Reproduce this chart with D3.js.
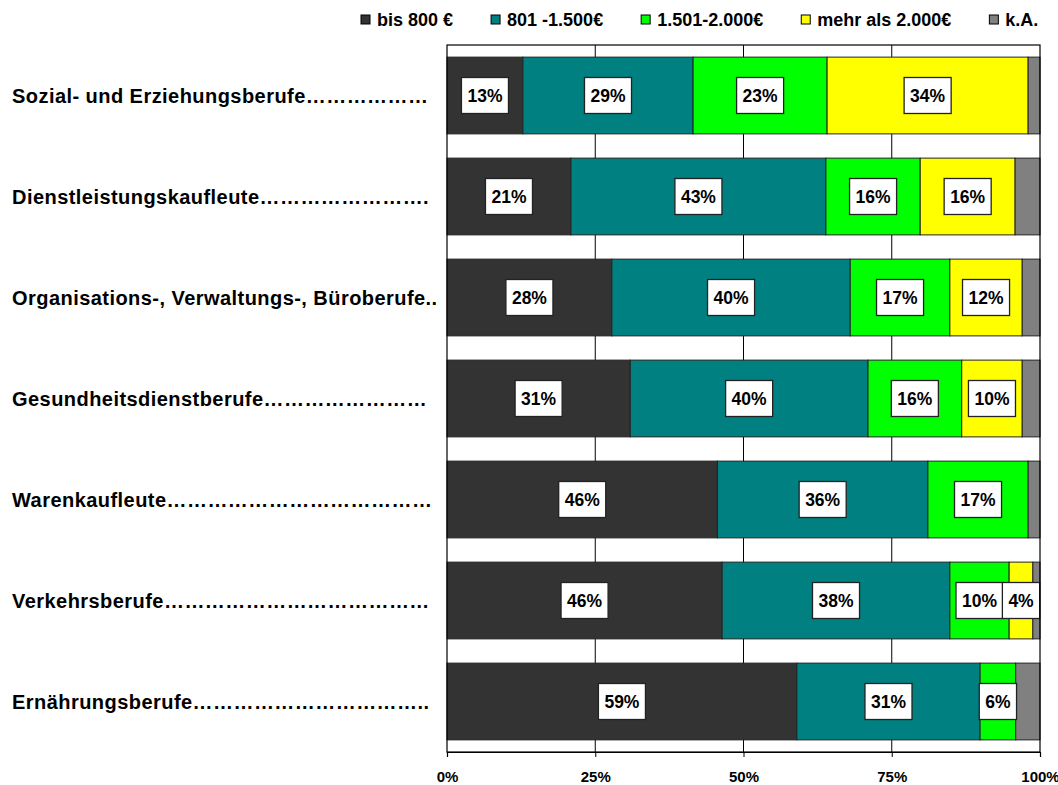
<!DOCTYPE html>
<html>
<head>
<meta charset="utf-8">
<script src="https://cdn.jsdelivr.net/npm/d3@7"></script>
<style>
  body { margin: 0; background: #fff; }
  svg { display: block; font-family: Arial, "Liberation Sans", sans-serif; font-weight: bold; }
</style>
</head>
<body>
<svg id="chart" width="1058" height="785"></svg>
<script>
// Occupational groups (rows, top to bottom), with dot leaders
const categories = [
  "Sozial- und Erziehungsberufe\u2026\u2026\u2026\u2026\u2026\u2026",
  "Dienstleistungskaufleute\u2026\u2026\u2026\u2026\u2026\u2026\u2026\u2026.",
  "Organisations-, Verwaltungs-, Büroberufe..",
  "Gesundheitsdienstberufe\u2026\u2026\u2026\u2026\u2026\u2026\u2026\u2026",
  "Warenkaufleute\u2026\u2026\u2026\u2026\u2026\u2026\u2026\u2026\u2026\u2026\u2026\u2026\u2026",
  "Verkehrsberufe\u2026\u2026\u2026\u2026\u2026\u2026\u2026\u2026\u2026\u2026\u2026\u2026\u2026",
  "Ernährungsberufe\u2026\u2026\u2026\u2026\u2026\u2026\u2026\u2026\u2026\u2026\u2026.."
];

// Income bands (stack order, left to right)
const seriesNames = ["bis 800 €", "801 -1.500€", "1.501-2.000€", "mehr als 2.000€", "k.A."];

// Shares in percent per occupational group
const bis800      = [12.8, 20.9, 27.8, 30.9, 45.6, 46.4, 59.0];
const von801      = [28.7, 43.0, 40.2, 40.1, 35.5, 38.4, 30.9];
const von1501     = [22.6, 15.9, 16.8, 15.8, 16.9, 10.0,  6.0];
const mehr2000    = [33.9, 16.0, 12.2, 10.2,  0.0,  4.0,  0.0];
const keineAngabe = [ 2.0,  4.2,  3.0,  3.0,  2.0,  1.2,  4.1];

const tickValues = [0, 25, 50, 75, 100];
const colors = ["#333333", "#008080", "#00ff00", "#ffff00", "#808080"];

const seriesValues = [bis800, von801, von1501, mehr2000, keineAngabe];
const rows = categories.map((c, i) => {
  const r = { cat: c };
  seriesNames.forEach((s, k) => { r[s] = seriesValues[k][i]; });
  return r;
});

const svg = d3.select("#chart");
const plot = { left: 447, right: 1040, top: 45, bottom: 752 };

const x = d3.scaleLinear().domain([0, 100]).range([plot.left, plot.right]);
const y = d3.scaleBand().domain(categories).range([plot.top, plot.bottom])
  .paddingInner(0.24).paddingOuter(0.12);
const color = d3.scaleOrdinal().domain(seriesNames).range(colors);

const stacked = d3.stack().keys(seriesNames)(rows);

// vertical gridlines
svg.append("g").selectAll("line").data(tickValues.slice(1, -1)).join("line")
  .attr("x1", d => x(d)).attr("x2", d => x(d))
  .attr("y1", plot.top).attr("y2", plot.bottom)
  .attr("stroke", "#000").attr("stroke-width", 1);

// bar segments
const layers = svg.append("g").selectAll("g").data(stacked).join("g")
  .attr("fill", d => color(d.key));
layers.selectAll("rect").data(d => d.filter(p => p[1] - p[0] > 0)).join("rect")
  .attr("x", d => x(d[0]))
  .attr("y", d => y(d.data.cat))
  .attr("width", d => x(d[1]) - x(d[0]))
  .attr("height", y.bandwidth())
  .attr("stroke", "#222").attr("stroke-width", 1);

// value labels in white boxes (income bands only, not k.A.)
const labelG = svg.append("g");
stacked.slice(0, 4).forEach(layer => {
  layer.forEach(p => {
    const v = p.data[layer.key];
    if (v < 3) return;
    const cx = (x(p[0]) + x(p[1])) / 2;
    const cy = y(p.data.cat) + y.bandwidth() / 2;
    const g = labelG.append("g");
    const rect = g.append("rect").attr("fill", "#fff").attr("stroke", "#222").attr("stroke-width", 1.3);
    const t = g.append("text")
      .attr("x", cx).attr("y", cy)
      .attr("text-anchor", "middle").attr("dominant-baseline", "central")
      .attr("font-size", 17.5).attr("fill", "#000")
      .text(Math.round(v) + "%");
    const w = t.node().getComputedTextLength() + 12;
    rect.attr("x", cx - w / 2).attr("y", cy - 18).attr("width", w).attr("height", 36);
  });
});

// plot area frame
svg.append("rect")
  .attr("x", plot.left).attr("y", plot.top)
  .attr("width", plot.right - plot.left).attr("height", plot.bottom - plot.top)
  .attr("fill", "none").attr("stroke", "#000").attr("stroke-width", 1.2);

// bottom axis
const xAxis = d3.axisBottom(x).tickValues(tickValues).tickFormat(d => d + "%")
  .tickSize(5).tickPadding(14);
const ax = svg.append("g").attr("transform", `translate(0,${plot.bottom})`).call(xAxis);
ax.select(".domain").attr("stroke", "#000").attr("stroke-width", 1.2);
ax.selectAll(".tick line").attr("stroke", "#000");
ax.selectAll(".tick text").attr("font-size", 15).attr("font-weight", "bold")
  .attr("font-family", "Arial, 'Liberation Sans', sans-serif").attr("fill", "#000");

// category labels
svg.append("g").selectAll("text").data(categories).join("text")
  .attr("x", 12)
  .attr("y", d => y(d) + y.bandwidth() / 2)
  .attr("dominant-baseline", "central")
  .attr("font-size", 20)
  .attr("letter-spacing", 0.45)
  .attr("fill", "#000")
  .text(d => d);

// legend
const legend = svg.append("g").attr("transform", "translate(361,20)");
let lx = 0;
seriesNames.forEach(s => {
  const item = legend.append("g").attr("transform", `translate(${lx},0)`);
  item.append("rect").attr("x", 0).attr("y", -5).attr("width", 9).attr("height", 9)
    .attr("fill", color(s)).attr("stroke", "#000").attr("stroke-width", 1);
  const t = item.append("text").attr("x", 16).attr("y", 0)
    .attr("dominant-baseline", "central").attr("font-size", 18).attr("fill", "#000").text(s);
  lx += 16 + t.node().getComputedTextLength() + 38;
});
</script>
</body>
</html>
